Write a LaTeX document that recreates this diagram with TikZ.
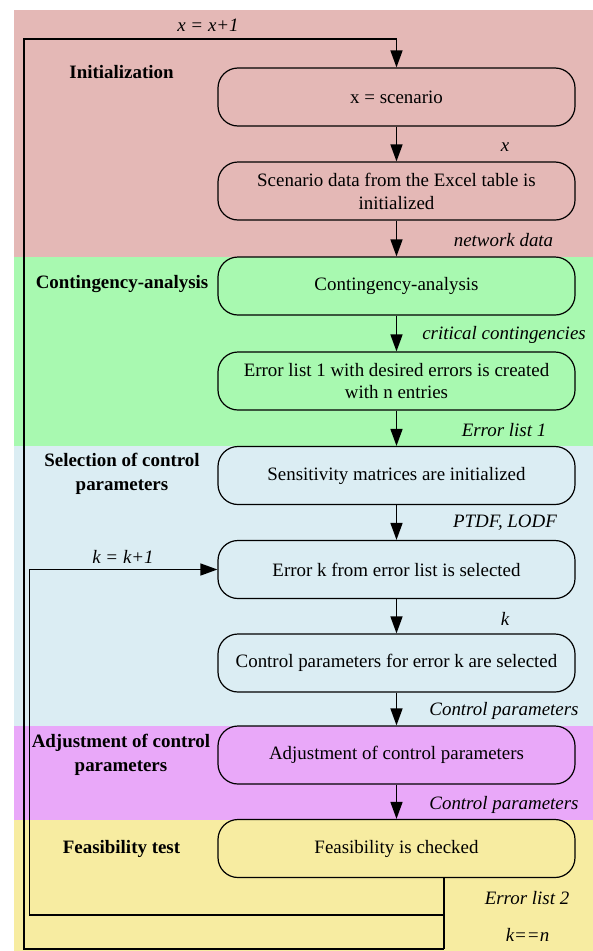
\documentclass[tikz,border=0pt]{standalone}
\usepackage{fontspec}
\setmainfont{Liberation Serif}
\usetikzlibrary{arrows.meta}
\definecolor{cRed}{RGB}{228,184,182}
\definecolor{cGreen}{RGB}{168,249,176}
\definecolor{cBlue}{RGB}{219,237,243}
\definecolor{cMag}{RGB}{233,168,249}
\definecolor{cYel}{RGB}{247,236,161}
\begin{document}
\begin{tikzpicture}[x=1bp,y=-1bp,
  box/.style={draw, line width=1.2bp, rounded corners=20bp, minimum width=357bp, minimum height=58bp, align=center, inner sep=2bp, font=\fontsize{19}{23}\selectfont},
  lbl/.style={inner sep=0pt, font=\fontsize{19}{23}\selectfont\itshape},
  sec/.style={inner sep=0pt, align=center, font=\fontsize{19}{24}\selectfont\bfseries},
  lin/.style={line width=1.5bp},
  arr/.style={line width=1.5bp, -{Triangle[length=17bp,width=12bp]}}]
\useasboundingbox (0,0) rectangle (593,951);
% bands
\fill[cRed] (14,10) rectangle (593,257);
\fill[cGreen] (14,257) rectangle (593,446);
\fill[cBlue] (14,446) rectangle (593,726);
\fill[cMag] (14,726) rectangle (593,820);
\fill[cYel] (14,820) rectangle (593,951);
% section labels
\node[sec] (s1) at (121.5,72) {Initialization};
\node[sec] (s2) at (122,284) {Contingency-analysis};
\node[sec] (s3) at (122,474) {Selection of control\\parameters};
\node[sec] (s4) at (121,755) {Adjustment of control\\parameters};
\node[sec] (s5) at (121.5,849) {Feasibility test};
% boxes
\node[box] (b1) at (396.5,97) {x = scenario};
\node[box] (b2) at (396.5,191) {Scenario data from the Excel table is\\initialized};
\node[box] (b3) at (396.5,286) {Contingency-analysis};
\node[box] (b4) at (396.5,381) {Error list 1 with desired errors is created\\with n entries};
\node[box] (b5) at (396.5,475.5) {Sensitivity matrices are initialized};
\node[box] (b6) at (396.5,569.5) {Error k from error list is selected};
\node[box] (b7) at (396.5,663) {Control parameters for error k are selected};
\node[box] (b8) at (396.5,755) {Adjustment of control parameters};
\node[box] (b9) at (396.5,848.5) {Feasibility is checked};
% connectors
\draw[arr] (b1) -- (b2);
\draw[arr] (b2) -- (b3);
\draw[arr] (b3) -- (b4);
\draw[arr] (b4) -- (b5);
\draw[arr] (b5) -- (b6);
\draw[arr] (b6) -- (b7);
\draw[arr] (b7) -- (b8);
\draw[arr] (b8) -- (b9);
% connector labels
\node[lbl] (l1) at (505,147) {x};
\node[lbl] (l2) at (503.5,240) {network data};
\node[lbl] (l3) at (504,335) {critical contingencies};
\node[lbl] (l4) at (504,430) {Error list 1};
\node[lbl] (l5) at (505,523) {PTDF, LODF};
\node[lbl] (l6) at (505,619) {k};
\node[lbl] (l7) at (504,711) {Control parameters};
\node[lbl] (l8) at (504,805) {Control parameters};
\node[lbl] (l9) at (527,898) {Error list 2};
\node[lbl] (l10) at (527.5,935) {k==n};
\node[lbl] (l11) at (208,25) {x = x+1};
\node[lbl] (l12) at (123,557) {k = k+1};
% loops
\coordinate (fx) at (444,878);
\coordinate (ob) at (444,949);
\coordinate (ib) at (444,915);
\coordinate (obl) at (24,949);
\coordinate (otl) at (24,39);
\coordinate (ibl) at (29.5,915);
\draw[lin] (fx) -- (ob);
\draw[arr] (ob) -- (obl) -- (otl) -- (otl -| b1.north) -- (b1.north);
\draw[arr] (ib) -- (ibl) -- (ibl |- b6.west) -- (b6.west);
\end{tikzpicture}
\end{document}
